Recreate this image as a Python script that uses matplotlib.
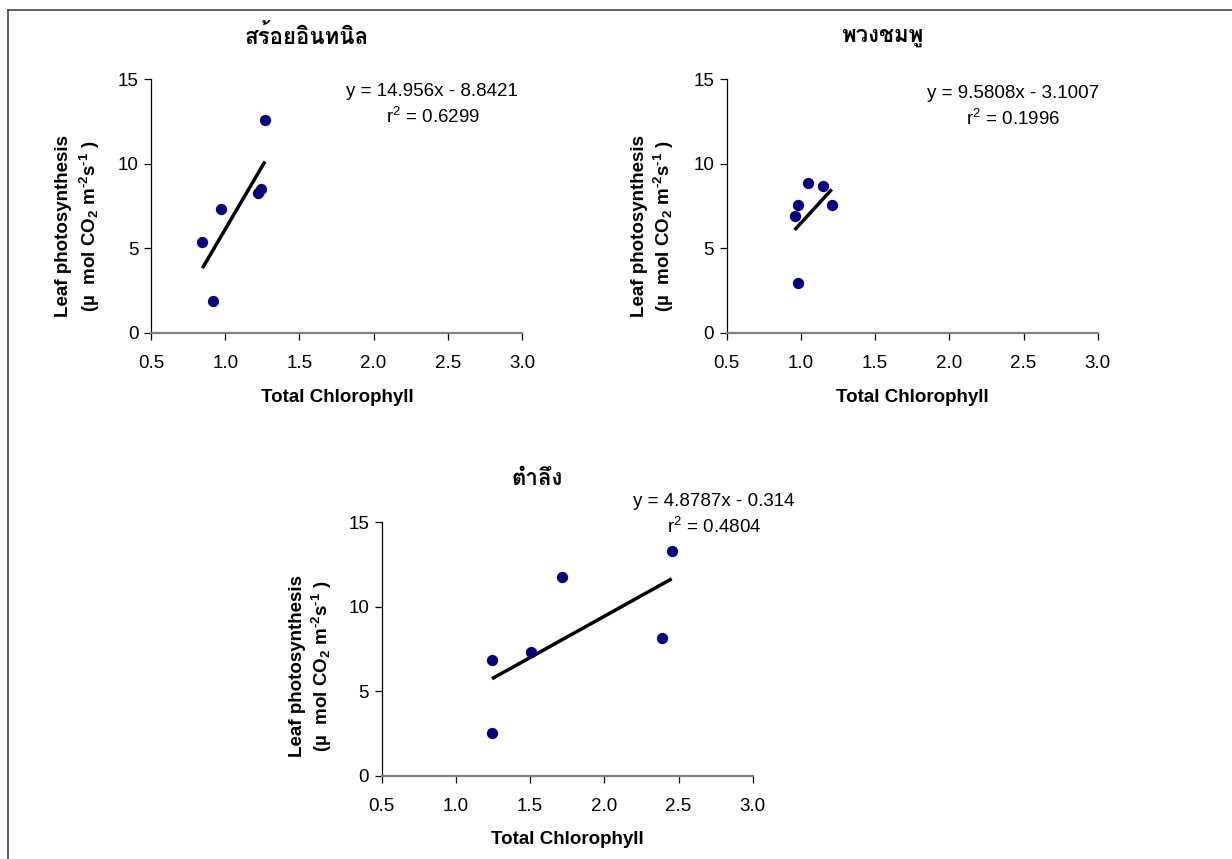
import matplotlib
matplotlib.use("Agg")
import matplotlib.pyplot as plt
from matplotlib import font_manager
from matplotlib.ft2font import FT2Font
from matplotlib.lines import Line2D
import numpy as np

# ---------------- data ----------------
titles = ["สร้อยอินทนิล", "พวงชมพู", "ตำลึง"]
x1 = [0.846, 0.916, 0.972, 1.219, 1.243, 1.268]
y1 = [5.38, 1.89, 7.33, 8.28, 8.48, 12.58]
x2 = [0.958, 0.983, 0.983, 1.050, 1.151, 1.208]
y2 = [6.92, 7.55, 2.92, 8.87, 8.67, 7.55]
x3 = [1.243, 1.243, 1.504, 1.717, 2.387, 2.454]
y3 = [6.84, 2.52, 7.35, 11.77, 8.16, 13.30]
slopes = [14.956, 9.5808, 4.8787]
intercepts = [-8.8421, -3.1007, -0.314]
eq_texts = ["y = 14.956x - 8.8421", "y = 9.5808x - 3.1007", "y = 4.8787x - 0.314"]
r2_texts = ["0.6299", "0.1996", "0.4804"]
xticks = [0.5, 1.0, 1.5, 2.0, 2.5, 3.0]
yticks = [0, 5, 10, 15]
xlabel = "Total Chlorophyll"
ylabel1 = "Leaf photosynthesis"

# ---------------- fonts ----------------
base = "Liberation Sans"
thai_family = None
for f in font_manager.fontManager.ttflist:
    try:
        cm = FT2Font(f.fname).get_charmap()
        if 0x0E2A in cm and 0x0E23 in cm:
            thai_family = f.name
            if "Thai" in f.name or "Loma" in f.name or "Garuda" in f.name:
                break
    except Exception:
        pass
fam = [base, "DejaVu Sans"]
title_fam = ([thai_family] if thai_family else []) + fam
plt.rcParams['font.family'] = fam
plt.rcParams['mathtext.fontset'] = 'custom'
plt.rcParams['mathtext.rm'] = 'Liberation Sans'
plt.rcParams['mathtext.it'] = 'Liberation Sans'
plt.rcParams['mathtext.bf'] = 'Liberation Sans:bold'

FS = 13.5

W, H = 1232, 859
fig = plt.figure(figsize=(W / 100, H / 100), dpi=100)

def fx(px):
    return px / W

def fy(py):
    return 1 - py / H

layouts = [
    dict(l=151, r=522, t=79, b=332.7, title=(307, 36), xl=(337, 398), yl1=64, yl2=90, ylc=226,
         eq=(432, 91), r2=(433, 117)),
    dict(l=726.7, r=1097.7, t=79, b=332.7, title=(882, 37), xl=(912, 398), yl1=639, yl2=664, ylc=226,
         eq=(1013, 93), r2=(1013, 119)),
    dict(l=381.7, r=752.7, t=522.3, b=776, title=(537, 479), xl=(567, 840), yl1=297, yl2=322, ylc=666,
         eq=(714, 502), r2=(714, 527)),
]
xs = [x1, x2, x3]
ys = [y1, y2, y3]

for i, L in enumerate(layouts):
    ax = fig.add_axes([fx(L['l']), fy(L['b']), fx(L['r'] - L['l']), (L['b'] - L['t']) / H])
    ax.set_xlim(0.5, 3.0)
    ax.set_ylim(0, 15)
    ax.scatter(xs[i], ys[i], s=66, color="#000080", zorder=3, linewidths=0)
    xa = np.array([min(xs[i]), max(xs[i])])
    ax.plot(xa, slopes[i] * xa + intercepts[i], color="black", lw=2.5, zorder=2,
            solid_capstyle='butt')
    for s in ["top", "right"]:
        ax.spines[s].set_visible(False)
    ax.spines['left'].set_color("black")
    ax.spines['left'].set_linewidth(0.9)
    ax.spines['bottom'].set_color("#808080")
    ax.spines['bottom'].set_linewidth(1.6)
    ax.set_xticks(xticks)
    ax.set_xticklabels([f"{v:.1f}" for v in xticks])
    ax.set_yticks(yticks)
    ax.tick_params(axis='both', direction='out', length=5, width=0.9, color='black',
                   labelsize=FS)
    ax.tick_params(axis='x', pad=11)
    ax.tick_params(axis='y', pad=4)
    ax.patch.set_alpha(0)

    fig.text(fx(L['title'][0]), fy(L['title'][1]), titles[i], ha='center', va='center',
             fontsize=16, fontweight='bold', family=title_fam)
    fig.text(fx(L['xl'][0]), fy(L['xl'][1]), xlabel, ha='center', va='center',
             fontsize=FS, fontweight='bold')
    fig.text(fx(L['yl1']), fy(L['ylc']), ylabel1, ha='center', va='center', rotation=90,
             fontsize=FS, fontweight='bold')
    fig.text(fx(L['yl2']), fy(L['ylc']),
             "(µ  mol CO$_\\mathbf{2}$ m$^\\mathbf{\u20102}$s$^\\mathbf{\u20101}$ )",
             ha='center', va='center', rotation=90, fontsize=FS, fontweight='bold')
    fig.text(fx(L['eq'][0]), fy(L['eq'][1]), eq_texts[i], ha='center', va='center', fontsize=FS)
    fig.text(fx(L['r2'][0]), fy(L['r2'][1]), r"r$^2$ = " + r2_texts[i], ha='center', va='center',
             fontsize=FS)

# figure border (top and left)
fig.add_artist(Line2D([fx(8), fx(8)], [0, fy(9.5)], color="#404040", lw=1.2))
fig.add_artist(Line2D([fx(8), 1], [fy(9.5), fy(9.5)], color="#404040", lw=1.2))

fig.savefig("out.png", dpi=100)
